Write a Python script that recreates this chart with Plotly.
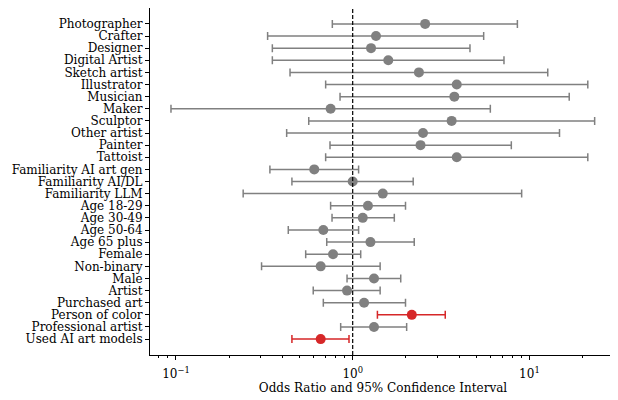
import plotly.graph_objects as go

labels = ["Photographer", "Crafter", "Designer", "Digital Artist", "Sketch artist",
          "Illustrator", "Musician", "Maker", "Sculptor", "Other artist", "Painter",
          "Tattoist", "Familiarity AI art gen", "Familiarity AI/DL", "Familiarity LLM",
          "Age 18-29", "Age 30-49", "Age 50-64", "Age 65 plus", "Female", "Non-binary",
          "Male", "Artist", "Purchased art", "Person of color", "Professional artist",
          "Used AI art models"]
odds = [2.57, 1.355, 1.27, 1.59, 2.37, 3.88, 3.76, 0.75, 3.63, 2.50, 2.42, 3.88,
        0.606, 1.00, 1.48, 1.22, 1.14, 0.682, 1.26, 0.774, 0.659, 1.32, 0.929, 1.16,
        2.16, 1.32, 0.659]
ci_low = [0.767, 0.330, 0.351, 0.351, 0.442, 0.703, 0.848, 0.0937, 0.564, 0.423, 0.744,
          0.703, 0.340, 0.453, 0.240, 0.750, 0.764, 0.432, 0.713, 0.542, 0.305, 0.929,
          0.598, 0.682, 1.38, 0.855, 0.453]
ci_high = [8.55, 5.51, 4.61, 7.18, 12.7, 21.4, 16.8, 6.01, 23.4, 14.8, 7.90, 21.4,
           1.08, 2.20, 9.04, 1.99, 1.72, 1.08, 2.23, 1.11, 1.43, 1.87, 1.43, 1.99,
           3.34, 2.02, 0.953]
significant = [False] * 24 + [True, False, True]

GRAY = "#808080"
RED = "#d62728"

positions = list(range(len(labels)))

fig = go.Figure()
for sig, color in [(False, GRAY), (True, RED)]:
    idx = [i for i in positions if significant[i] == sig]
    fig.add_trace(go.Scatter(
        x=[odds[i] for i in idx],
        y=[positions[i] for i in idx],
        mode="markers",
        marker=dict(color=color, size=10),
        error_x=dict(type="data", symmetric=False,
                     array=[ci_high[i] - odds[i] for i in idx],
                     arrayminus=[odds[i] - ci_low[i] for i in idx],
                     color=color, thickness=1.5, width=4),
        showlegend=False,
    ))

fig.add_shape(type="line", xref="x", yref="paper", x0=1, x1=1, y0=0, y1=1,
              line=dict(color="black", width=1.2, dash="4px,2px"))

minor_vals = [m * 10 ** e for e in (-2, -1, 0, 1) for m in range(2, 10)]
minor_vals = [v for v in minor_vals if 0.071 < v < 31]

# the page body adds an 8px offset, so the figure is sized to fit inside it
fig.update_layout(
    width=610, height=392,
    margin=dict(l=142, r=2, t=0, b=45),
    plot_bgcolor="white", paper_bgcolor="white",
    font=dict(family="DejaVu Serif", size=12, color="black"),
    xaxis=dict(type="log", range=[-1.147, 1.490], automargin=False,
               tickmode="array",
               tickvals=[0.1, 1, 10], ticktext=["10<sup>\u22121</sup>", "10<sup>0</sup>", "10<sup>1</sup>"],
               ticks="outside", ticklen=4, tickcolor="black", ticklabelstandoff=4,
               minor=dict(tickvals=minor_vals, ticks="outside", ticklen=2, tickcolor="black"),
               showgrid=False, zeroline=False,
               showline=True, linecolor="black", linewidth=1, mirror=True,
               title=dict(text="Odds Ratio and 95% Confidence Interval", standoff=3,
                          font=dict(size=12))),
    yaxis=dict(tickmode="array", tickvals=positions, ticktext=labels, automargin=False,
               range=[27.31, -1.31],
               ticks="outside", ticklen=4, tickcolor="black",
               showgrid=False, zeroline=False,
               showline=True, linecolor="black", linewidth=1, mirror=True),
)

fig.write_html("out.html")
